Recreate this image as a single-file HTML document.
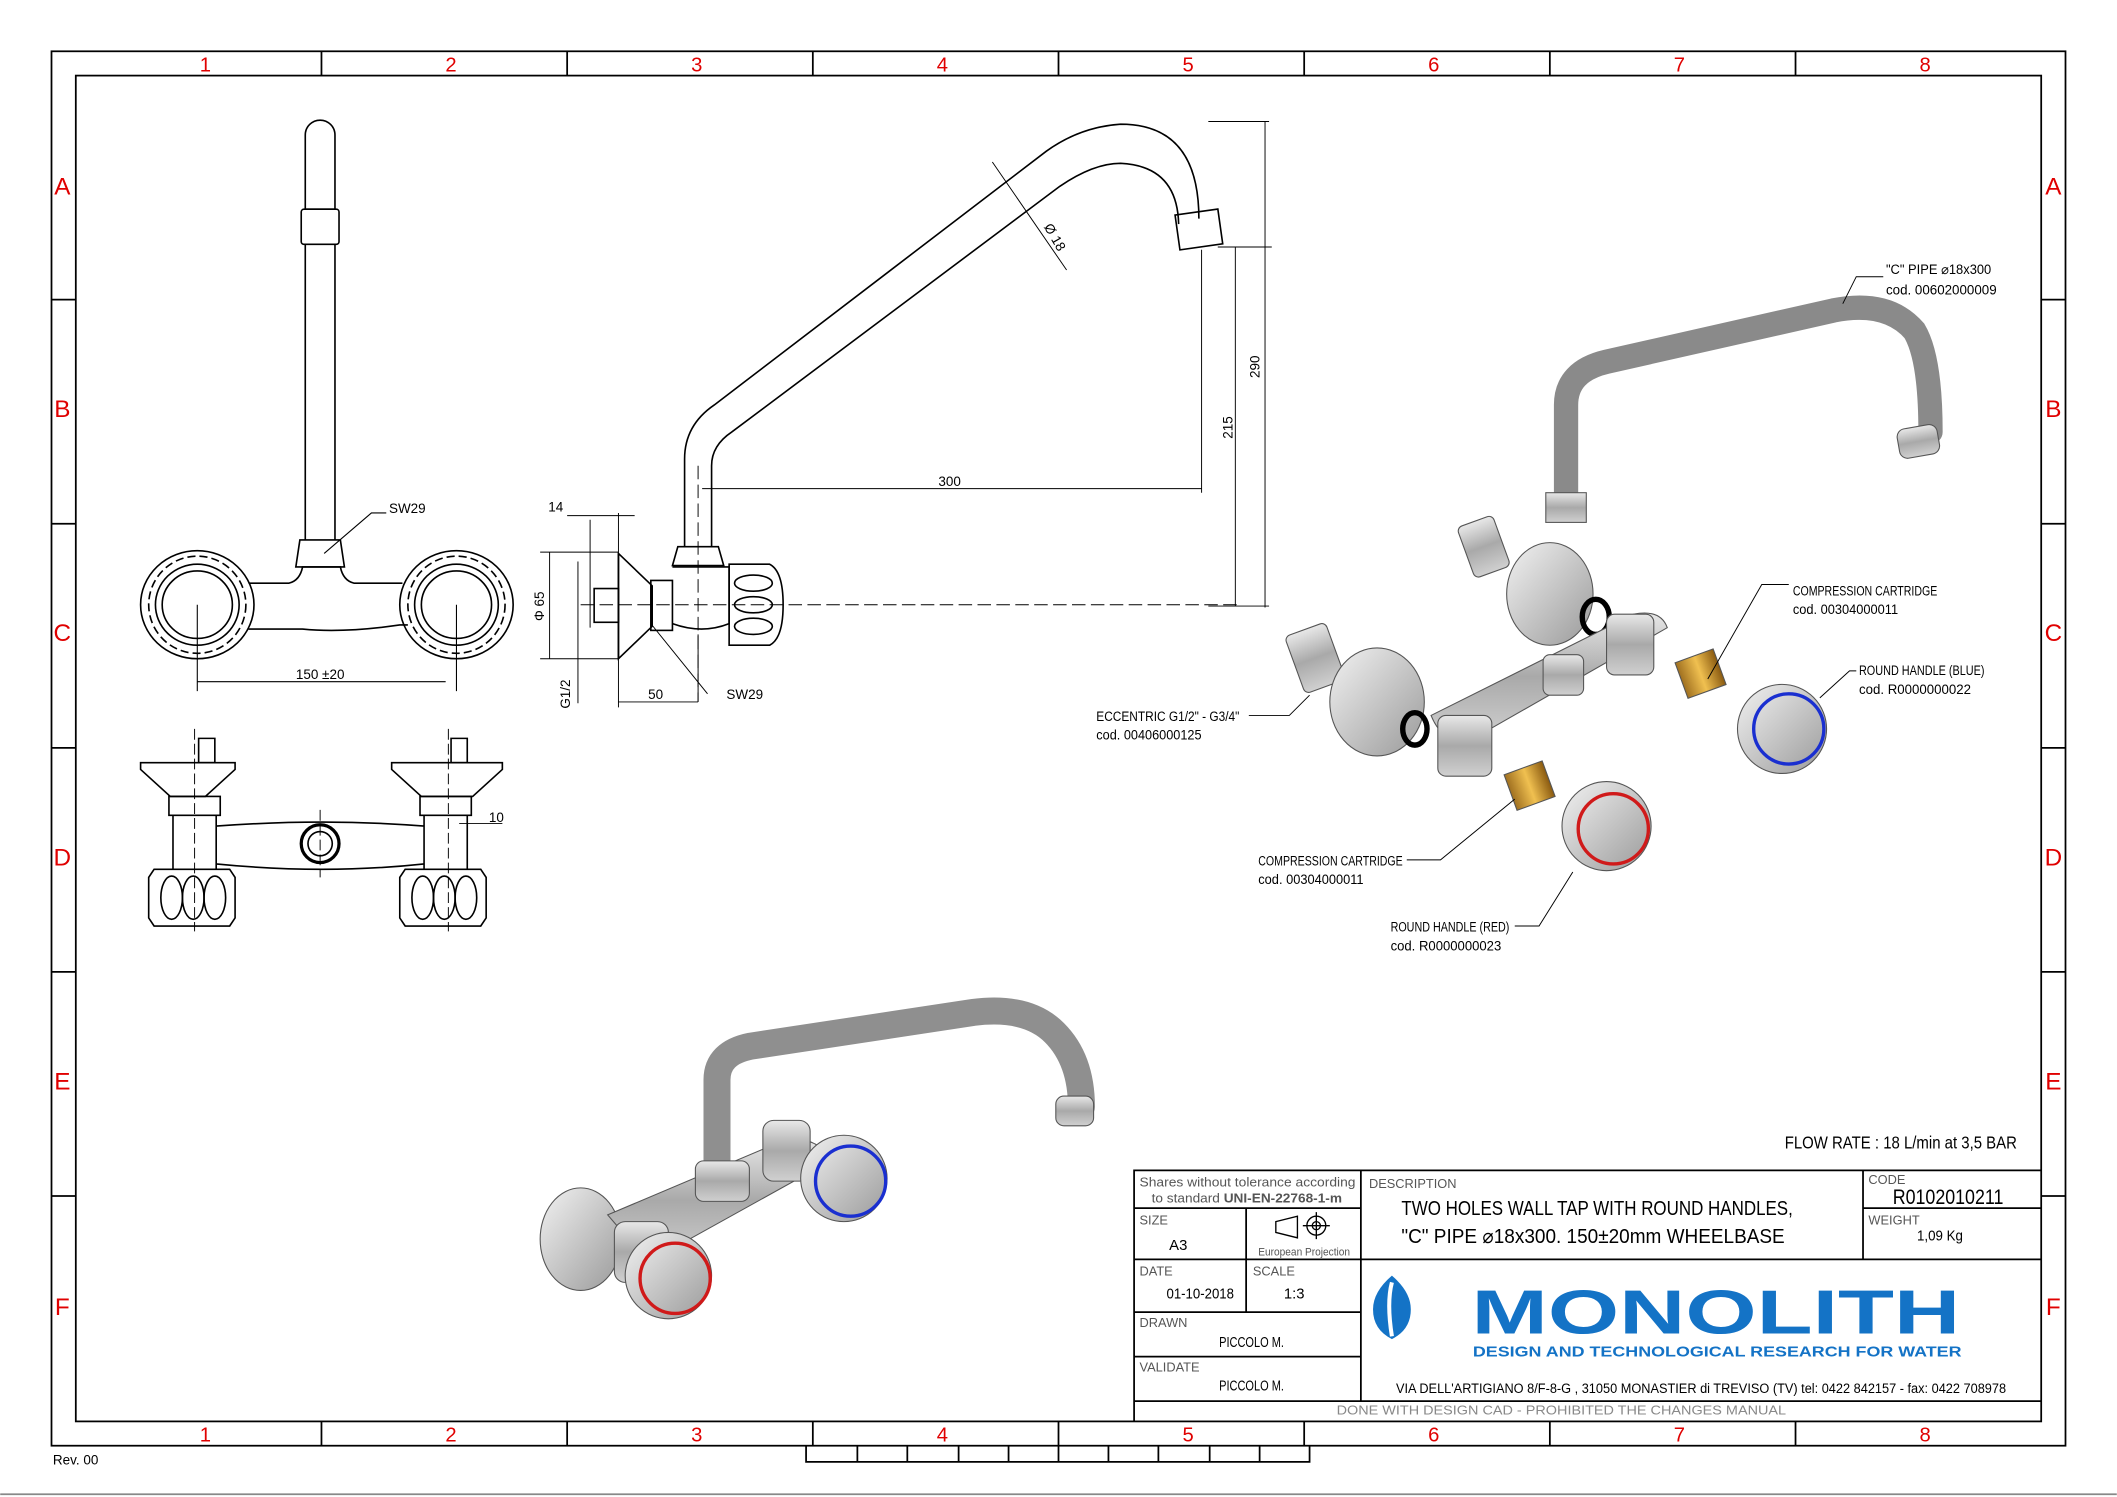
<!DOCTYPE html>
<html><head><meta charset="utf-8"><style>
html,body{margin:0;padding:0;background:#fff}
svg{display:block}
text{font-family:"Liberation Sans",sans-serif}
</style></head><body>
<svg width="2117" height="1497" viewBox="0 0 1568 1109" xmlns="http://www.w3.org/2000/svg">
<defs>
<linearGradient id="g1" x1="0" y1="0" x2="0" y2="1"><stop offset="0" stop-color="#e8e8e8"/><stop offset=".5" stop-color="#a9a9a9"/><stop offset="1" stop-color="#d0d0d0"/></linearGradient>
<linearGradient id="g2" x1="0" y1="0" x2="1" y2="1"><stop offset="0" stop-color="#f2f2f2"/><stop offset="1" stop-color="#9a9a9a"/></linearGradient>
<linearGradient id="br" x1="0" y1="0" x2="1" y2="0"><stop offset="0" stop-color="#a07020"/><stop offset=".5" stop-color="#f0c050"/><stop offset="1" stop-color="#8a5a10"/></linearGradient>
</defs>
<rect width="1568" height="1109" fill="#fff"/>
<g fill="none" stroke="#000" stroke-width="1.3">
<rect x="38" y="38" width="1492" height="1033"/>
<rect x="56" y="56" width="1456" height="997"/>
<path d="M238 38V56M420 38V56M602 38V56M784 38V56M966 38V56M1148 38V56M1330 38V56M238 1053V1071M420 1053V1071M602 1053V1071M784 1053V1071M966 1053V1071M1148 1053V1071M1330 1053V1071"/>
<path d="M38 222H56M38 388H56M38 554H56M38 720H56M38 886H56M1512 222H1530M1512 388H1530M1512 554H1530M1512 720H1530M1512 886H1530"/>
<path d="M597 1071V1083H970V1071M635 1071V1083M672 1071V1083M710 1071V1083M747 1071V1083M784 1071V1083M821 1071V1083M858 1071V1083M896 1071V1083M933 1071V1083"/>
<path d="M0 1107H1568" stroke="#888"/>
</g>
<g fill="#e00000" font-size="15" text-anchor="middle">
<text x="152" y="53">1</text><text x="334" y="53">2</text><text x="516" y="53">3</text><text x="698" y="53">4</text><text x="880" y="53">5</text><text x="1062" y="53">6</text><text x="1244" y="53">7</text><text x="1426" y="53">8</text>
<text x="152" y="1068">1</text><text x="334" y="1068">2</text><text x="516" y="1068">3</text><text x="698" y="1068">4</text><text x="880" y="1068">5</text><text x="1062" y="1068">6</text><text x="1244" y="1068">7</text><text x="1426" y="1068">8</text>
<g font-size="18"><text x="46" y="144">A</text><text x="46" y="309">B</text><text x="46" y="475">C</text><text x="46" y="641">D</text><text x="46" y="807">E</text><text x="46" y="974">F</text>
<text x="1521" y="144">A</text><text x="1521" y="309">B</text><text x="1521" y="475">C</text><text x="1521" y="641">D</text><text x="1521" y="807">E</text><text x="1521" y="974">F</text></g>
</g>
<text x="39" y="1085" font-size="10">Rev. 00</text>

<!-- front view -->
<g fill="none" stroke="#000" stroke-width="1.2">
<path d="M226 100a11 11 0 0 1 22 0V155H226Z"/>
<rect x="223" y="155" width="28" height="26" rx="2"/>
<path d="M226 181V400M248 181V400"/>
<path d="M222 400h30l3 20h-36Z"/>
<ellipse cx="146" cy="448" rx="42" ry="40"/><ellipse cx="146" cy="448" rx="31" ry="30"/><ellipse cx="146" cy="448" rx="26" ry="25"/>
<ellipse cx="146" cy="448" rx="36" ry="36" stroke-dasharray="6 3"/>
<ellipse cx="338" cy="448" rx="42" ry="40"/><ellipse cx="338" cy="448" rx="31" ry="30"/><ellipse cx="338" cy="448" rx="26" ry="25"/>
<ellipse cx="338" cy="448" rx="36" ry="36" stroke-dasharray="6 3"/>
<path d="M184 432h30q8-2 10-12h28q2 10 10 12h36M184 466h40q30 3 72-3h6"/>
<path d="M146 448V512M338 448V512M146 505H330" stroke-width=".8"/>
<path d="M240 410L275 380H286" stroke-width=".8"/>
</g>
<text x="288" y="380" font-size="10">SW29</text>
<text x="219" y="503" font-size="10">150 ±20</text>
<!-- top view -->
<g fill="none" stroke="#000" stroke-width="1.2">
<path d="M147 547h12v18h-12ZM334 547h12v18h-12Z"/>
<path d="M104 565h70v5l-22 20h-26l-22-20ZM290 565h82v5l-22 20h-38l-22-20Z"/>
<rect x="125" y="590" width="38" height="14"/><rect x="311" y="590" width="38" height="14"/>
<path d="M128 604v40M160 604v40M314 604v40M346 604v40M160 612q80-6 154 0M160 640q80 8 154 0"/>
<circle cx="237" cy="625" r="14" stroke-width="2.4"/><circle cx="237" cy="625" r="9"/>
<path d="M114 644h56l4 6v30l-4 6h-56l-4-6v-30Z"/><path d="M300 644h56l4 6v30l-4 6h-56l-4-6v-30Z"/>
<ellipse cx="127" cy="665" rx="8" ry="16"/><ellipse cx="143" cy="665" rx="8" ry="16"/><ellipse cx="159" cy="665" rx="8" ry="16"/>
<ellipse cx="313" cy="665" rx="8" ry="16"/><ellipse cx="329" cy="665" rx="8" ry="16"/><ellipse cx="345" cy="665" rx="8" ry="16"/>
<path d="M144 540V690M332 540V690M237 600V650" stroke-dasharray="8 3" stroke-width=".7"/>
<path d="M340 610h32" stroke-width=".7"/>
</g>
<text x="362" y="609" font-size="10">10</text>
<!-- side view -->
<g fill="none" stroke="#000" stroke-width="1.2">
<path d="M507 405V340q0-25 22-40L775 112q25-18 55-20q58 0 58 70"/>
<path d="M527 405V345q0-15 15-25L785 138q25-17 45-17q42 2 43 45"/>
<rect x="872" y="157" width="32" height="26" transform="rotate(-8 888 170)"/>
<path d="M458 410l25 24v30l-25 24Z"/><path d="M458 410v78"/>
<rect x="440" y="436" width="18" height="25"/><rect x="482" y="430" width="16" height="37"/>
<path d="M498 420h42v42q-20 8-42 0"/>
<path d="M502 405h30l4 14h-38Z"/>
<path d="M540 418h30q10 5 10 30t-10 30h-30Z"/>
<ellipse cx="558" cy="432" rx="14" ry="6"/><ellipse cx="558" cy="448" rx="14" ry="6"/><ellipse cx="558" cy="464" rx="14" ry="6"/>
</g>
<g fill="none" stroke="#000" stroke-width=".7">
<path d="M517 345V520M430 448H920" stroke-dasharray="10 4"/>
<path d="M400 409h58M400 488h58M407 409v79M437 385v80M458 380v30M420 382h50M428 416v105M458 488v36M517 470v50M458 520h59"/>
<path d="M520 362h370M890 185v180M902 183h40M895 449h45M937 90v360M915 183v266M895 90h45"/>
<path d="M735 120l55 80M482 462l42 52"/>
</g>
<g font-size="10">
<text x="406" y="379">14</text><text x="403" y="460" transform="rotate(-90 403 460)">Φ 65</text>
<text x="422" y="525" transform="rotate(-90 422 525)">G1/2</text><text x="480" y="518">50</text><text x="538" y="518">SW29</text>
<text x="695" y="360">300</text><text x="913" y="325" transform="rotate(-90 913 325)">215</text>
<text x="933" y="280" transform="rotate(-90 933 280)">290</text><text x="773" y="168" transform="rotate(60 773 168)">Ø 18</text>
</g>

<!-- exploded 3D -->
<g stroke="#555" stroke-width=".8">
<path d="M1160 370V300q0-25 30-32l168-38q40-8 60 15q12 20 12 75" fill="none" stroke="#8a8a8a" stroke-width="18" stroke-linecap="round"/>
<rect x="1406" y="316" width="30" height="22" rx="6" fill="url(#g1)" transform="rotate(-10 1421 327)"/>
<rect x="1145" y="365" width="30" height="22" fill="url(#g1)"/>
<rect x="1085" y="385" width="28" height="40" rx="4" fill="url(#g1)" transform="rotate(-20 1099 405)"/>
<ellipse cx="1148" cy="440" rx="32" ry="38" fill="url(#g2)"/>
<ellipse cx="1182" cy="457" rx="10" ry="13" fill="none" stroke="#000" stroke-width="4"/>
<path d="M1060 530l150-75q20-4 25 10l-140 80q-25 10-35-15Z" fill="url(#g1)"/>
<rect x="1143" y="485" width="30" height="30" rx="5" fill="url(#g1)"/>
<rect x="1190" y="455" width="35" height="45" rx="6" fill="url(#g1)"/>
<rect x="1065" y="530" width="40" height="45" rx="6" fill="url(#g1)"/>
<rect x="958" y="465" width="32" height="45" rx="4" fill="url(#g1)" transform="rotate(-20 974 487)"/>
<ellipse cx="1020" cy="520" rx="35" ry="40" fill="url(#g2)"/>
<ellipse cx="1048" cy="540" rx="9" ry="12" fill="none" stroke="#000" stroke-width="4"/>
<rect x="1245" y="485" width="30" height="28" fill="url(#br)" transform="rotate(-20 1260 500)"/>
<rect x="1118" y="568" width="30" height="28" fill="url(#br)" transform="rotate(-20 1133 582)"/>
<circle cx="1320" cy="540" r="33" fill="url(#g2)"/>
<circle cx="1325" cy="540" r="26" fill="none" stroke="#1a2fd0" stroke-width="2.5"/>
<circle cx="1190" cy="612" r="33" fill="url(#g2)"/>
<circle cx="1195" cy="614" r="26" fill="none" stroke="#d01a1a" stroke-width="2.5"/>
</g>
<g fill="none" stroke="#000" stroke-width=".7">
<path d="M1365 225l10-20h20M1325 433h-20l-40 70M1375 497h-5l-22 20M925 530h30l15-15M1042 637h25l55-45M1122 686h18l25-40"/>
</g>
<g font-size="10">
<text x="1397" y="203" textLength="78" lengthAdjust="spacingAndGlyphs">"C" PIPE ⌀18x300</text><text x="1397" y="218" textLength="82" lengthAdjust="spacingAndGlyphs">cod. 00602000009</text>
<text x="1328" y="441" textLength="107" lengthAdjust="spacingAndGlyphs">COMPRESSION CARTRIDGE</text><text x="1328" y="455" textLength="78" lengthAdjust="spacingAndGlyphs">cod. 00304000011</text>
<text x="1377" y="500" textLength="93" lengthAdjust="spacingAndGlyphs">ROUND HANDLE (BLUE)</text><text x="1377" y="514" textLength="83" lengthAdjust="spacingAndGlyphs">cod. R0000000022</text>
<text x="812" y="534" textLength="106" lengthAdjust="spacingAndGlyphs">ECCENTRIC G1/2" - G3/4"</text><text x="812" y="548" textLength="78" lengthAdjust="spacingAndGlyphs">cod. 00406000125</text>
<text x="932" y="641" textLength="107" lengthAdjust="spacingAndGlyphs">COMPRESSION CARTRIDGE</text><text x="932" y="655" textLength="78" lengthAdjust="spacingAndGlyphs">cod. 00304000011</text>
<text x="1030" y="690" textLength="88" lengthAdjust="spacingAndGlyphs">ROUND HANDLE (RED)</text><text x="1030" y="704" textLength="82" lengthAdjust="spacingAndGlyphs">cod. R0000000023</text>
</g>

<!-- assembled 3D -->
<g stroke="#555" stroke-width=".8">
<path d="M531 870V800q0-20 25-25l165-25q40-5 60 15q20 20 20 55" fill="none" stroke="#8f8f8f" stroke-width="20" stroke-linecap="round"/>
<rect x="782" y="812" width="28" height="22" rx="6" fill="url(#g1)"/>
<ellipse cx="430" cy="918" rx="30" ry="38" fill="url(#g2)"/>
<path d="M450 900l130-55q25-5 35 15l-135 75Z" fill="url(#g1)"/>
<rect x="515" y="860" width="40" height="30" rx="6" fill="url(#g1)"/>
<rect x="565" y="830" width="35" height="45" rx="8" fill="url(#g1)"/>
<rect x="455" y="905" width="40" height="45" rx="8" fill="url(#g1)"/>
<circle cx="625" cy="873" r="32" fill="url(#g2)"/>
<circle cx="630" cy="875" r="26" fill="none" stroke="#1a2fd0" stroke-width="2.5"/>
<circle cx="495" cy="945" r="32" fill="url(#g2)"/>
<circle cx="500" cy="947" r="26" fill="none" stroke="#d01a1a" stroke-width="2.5"/>
</g>

<text x="1322" y="851" font-size="13" textLength="172" lengthAdjust="spacingAndGlyphs">FLOW RATE : 18 L/min at 3,5 BAR</text>

<!-- title block -->
<g fill="none" stroke="#000" stroke-width="1.3">
<path d="M840 1053V867H1512M1008 867V1038M1380 867V933M840 895H1008M840 933H1512M923 895V972M840 972H1008M840 1005H1008M1380 895H1512M840 1038H1512"/>
</g>
<g fill="#555" font-size="9.5">
<text x="844" y="879" textLength="160" lengthAdjust="spacingAndGlyphs">Shares without tolerance according</text>
<text x="853" y="891" textLength="141" lengthAdjust="spacingAndGlyphs">to standard <tspan font-weight="bold">UNI-EN-22768-1-m</tspan></text>
<text x="844" y="907">SIZE</text><text x="844" y="945">DATE</text><text x="928" y="945">SCALE</text>
<text x="844" y="983">DRAWN</text><text x="844" y="1016">VALIDATE</text>
<text x="1014" y="880">DESCRIPTION</text><text x="1384" y="877">CODE</text><text x="1384" y="907">WEIGHT</text>
<text x="932" y="930" font-size="8" textLength="68" lengthAdjust="spacingAndGlyphs">European Projection</text>
<text x="990" y="1048" fill="#888" textLength="333" lengthAdjust="spacingAndGlyphs">DONE WITH DESIGN CAD - PROHIBITED THE CHANGES MANUAL</text>
</g>
<g fill="none" stroke="#000" stroke-width="1">
<path d="M945 905l16-4v16l-16-4Z"/><circle cx="975" cy="908" r="7"/><circle cx="975" cy="908" r="3"/><path d="M965 908h20M975 898v20"/>
</g>
<g fill="#000">
<text x="866" y="926" font-size="11">A3</text><text x="864" y="962" font-size="11" textLength="50" lengthAdjust="spacingAndGlyphs">01-10-2018</text><text x="951" y="962" font-size="11">1:3</text>
<text x="903" y="998" font-size="11" textLength="48" lengthAdjust="spacingAndGlyphs">PICCOLO M.</text><text x="903" y="1030" font-size="11" textLength="48" lengthAdjust="spacingAndGlyphs">PICCOLO M.</text>
<text x="1038" y="900" font-size="15" textLength="290" lengthAdjust="spacingAndGlyphs">TWO HOLES WALL TAP WITH ROUND HANDLES,</text>
<text x="1038" y="921" font-size="15" textLength="284" lengthAdjust="spacingAndGlyphs">"C" PIPE ⌀18x300. 150±20mm WHEELBASE</text>
<text x="1402" y="892" font-size="16" textLength="82" lengthAdjust="spacingAndGlyphs">R0102010211</text><text x="1420" y="919" font-size="11" textLength="34" lengthAdjust="spacingAndGlyphs">1,09 Kg</text>
<text x="1034" y="1032" font-size="10" textLength="452" lengthAdjust="spacingAndGlyphs">VIA DELL'ARTIGIANO 8/F-8-G , 31050 MONASTIER di TREVISO (TV) tel: 0422 842157 - fax: 0422 708978</text>
</g>
<path d="M1031 945q-14 12-14 25q0 15 14 22q14-7 14-22q0-13-14-25Z" fill="#1473c6"/>
<path d="M1031 950q-4 15 0 40" stroke="#fff" stroke-width="3" fill="none"/>
<text x="1090" y="988" font-size="46" font-weight="bold" fill="#1473c6" textLength="362" lengthAdjust="spacingAndGlyphs">MONOLITH</text>
<text x="1091" y="1005" font-size="11" font-weight="bold" fill="#1473c6" textLength="362" lengthAdjust="spacingAndGlyphs">DESIGN AND TECHNOLOGICAL RESEARCH FOR WATER</text>
</svg>
</body></html>
